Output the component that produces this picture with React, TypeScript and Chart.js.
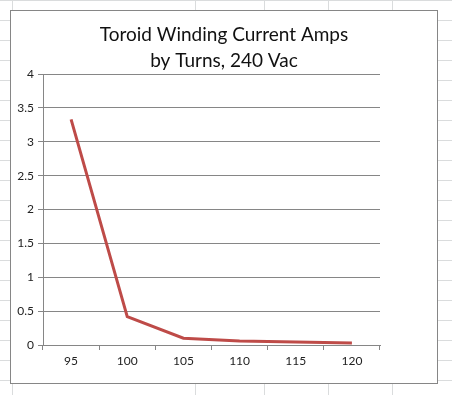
import React, { useEffect, useRef } from "react";
import { Chart, registerables } from "chart.js";

Chart.register(...registerables);

const titleLines = ["Toroid Winding Current Amps", "by Turns, 240 Vac"];
const turns = ["95", "100", "105", "110", "115", "120"];
const amps = [3.33, 0.42, 0.1, 0.06, 0.045, 0.03];
const yMin = 0;
const yMax = 4;
const yStep = 0.5;

const FONT = "Lato, 'Open Sans', sans-serif";

export default function App() {
  const ref = useRef<HTMLCanvasElement>(null);

  useEffect(() => {
    document.body.style.margin = "0";
    const chart = new Chart(ref.current!, {
      type: "line",
      data: {
        labels: turns,
        datasets: [
          {
            label: "Amps",
            data: amps,
            borderColor: "#BE4B48",
            backgroundColor: "#BE4B48",
            borderWidth: 3,
            pointRadius: 0,
            tension: 0,
          },
        ],
      },
      options: {
        animation: false,
        responsive: false,
        maintainAspectRatio: false,
        layout: { padding: 0 },
        plugins: {
          legend: { display: false },
          tooltip: { enabled: false },
          title: {
            display: true,
            text: titleLines,
            color: "#111",
            font: { family: FONT, size: 19, weight: "normal", lineHeight: 1.37 },
            padding: { top: 11, bottom: 0 },
          },
        },
        scales: {
          x: {
            type: "category",
            offset: true,
            grid: {
              display: true,
              drawOnChartArea: false,
              drawTicks: true,
              tickLength: 5,
              color: "#868686",
              offset: true,
            },
            border: { display: true, color: "#868686", width: 1 },
            ticks: {
              color: "#222",
              font: { family: FONT, size: 12 },
              padding: 4,
              maxRotation: 0,
            },
            afterFit: (s: any) => {
              s.height = 38;
            },
          },
          y: {
            min: yMin,
            max: yMax,
            grid: {
              color: "#868686",
              tickLength: 5,
              drawTicks: true,
            },
            border: { display: true, color: "#868686", width: 1 },
            ticks: {
              stepSize: yStep,
              color: "#222",
              font: { family: FONT, size: 12 },
              padding: 4,
              callback: (v: any) => String(Number(v)),
            },
            afterFit: (s: any) => {
              s.width = 32;
            },
          },
          spacer: {
            type: "linear",
            position: "right",
            display: true,
            grid: { display: false, drawTicks: false },
            border: { display: false },
            ticks: { display: false },
            afterFit: (s: any) => {
              s.width = 57;
            },
          },
        },
      },
    });
    return () => chart.destroy();
  }, []);

  const sheetBg: React.CSSProperties = {
    position: "fixed",
    left: 0,
    top: 0,
    width: 452,
    height: 395,
    background: "#fff",
    backgroundImage:
      "linear-gradient(to bottom, #DADCDD 1px, transparent 1px)",
    backgroundSize: "452px 20px",
    overflow: "hidden",
  };

  const colLines = [12, 195, 264, 328, 392];

  return (
    <div style={sheetBg}>
      {colLines.map((x) => (
        <div
          key={x}
          style={{
            position: "absolute",
            left: x,
            top: 0,
            width: 1,
            height: 395,
            background: "#DADCDD",
          }}
        />
      ))}
      <div
        style={{
          position: "absolute",
          left: 10,
          top: 10,
          width: 426,
          height: 372,
          border: "1px solid #868686",
          background: "#fff",
        }}
      >
        <canvas ref={ref} width={426} height={372} style={{ display: "block" }} />
      </div>
    </div>
  );
}
